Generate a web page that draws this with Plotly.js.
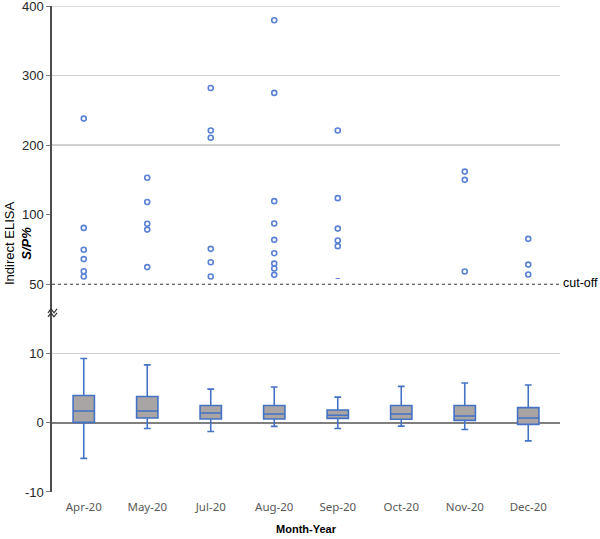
<!DOCTYPE html>
<html>
<head>
<meta charset="utf-8">
<script src="https://cdn.plot.ly/plotly-3.0.1.min.js"></script>
<style>html,body{margin:0;padding:0;background:#fff;}#chart{width:600px;height:539px;}</style>
</head>
<body>
<div id="chart"></div>
<script>
// ---- data ----
var months = ['Apr-20','May-20','Jul-20','Aug-20','Sep-20','Oct-20','Nov-20','Dec-20'];
// box statistics (S/P%, below cut-off)
var lowerWhisker = [-5.15, -0.83, -1.26, -0.53, -0.83, -0.49, -0.97, -2.62];
var q1Values     = [ 0.05,  0.68,  0.53,  0.53,  0.63,  0.49,  0.34, -0.24];
var medianValues = [ 1.70,  1.70,  1.41,  1.26,  1.07,  1.26,  0.97,  0.68];
var q3Values     = [ 3.93,  3.79,  2.48,  2.48,  1.84,  2.48,  2.48,  2.18];
var upperWhisker = [ 9.27,  8.35,  4.85,  5.15,  3.69,  5.24,  5.73,  5.44];
// positive samples (S/P% above cut-off)
var aprPos = [238, 90.5, 74.9, 68.3, 59.7, 55.9];
var mayPos = [153, 118, 93.4, 89.3, 62.6];
var julPos = [282, 221, 210.5, 75.6, 66.1, 55.9];
var augPos = [379.5, 275, 119.3, 93.6, 82, 72.5, 65.1, 61.6, 57.1];
var sepPos = [221, 123.6, 90, 81.5, 77.5];
var octPos = [];
var novPos = [161.8, 149.9, 59.5];
var decPos = [82.7, 64.4, 57.3];
var sepSmall = [54.5];
var cutoff = 50;
var lowTicks = [-10, 0, 10];
var midTicks = [50];
var highTicks = [100, 200, 300, 400];

// ---- build ----
var posLists = [aprPos, mayPos, julPos, augPos, sepPos, octPos, novPos, decPos];
var midX = [], midY = [], highX = [], highY = [];
posLists.forEach(function(list, i){
  list.forEach(function(v){
    if (v <= 100) { midX.push(months[i]); midY.push(v); }
    else { highX.push(months[i]); highY.push(v); }
  });
});

var markerStyle = {symbol: 'circle-open', size: 5, color: '#5b82d4', line: {width: 1.6, color: '#5b82d4'}};

var traces = [
  {
    type: 'box', x: months, yaxis: 'y',
    q1: q1Values, median: medianValues, q3: q3Values,
    lowerfence: lowerWhisker, upperfence: upperWhisker,
    fillcolor: '#aaa5a5', line: {color: '#4472c4', width: 1.6},
    whiskerwidth: 0.32, boxpoints: false, hoverinfo: 'skip', showlegend: false
  },
  {type: 'scatter', mode: 'markers', x: midX, y: midY, yaxis: 'y2', marker: markerStyle, showlegend: false, cliponaxis: false},
  {type: 'scatter', mode: 'markers', x: highX, y: highY, yaxis: 'y3', marker: markerStyle, showlegend: false, cliponaxis: false},
  {type: 'scatter', mode: 'markers', x: ['Sep-20'], y: sepSmall, yaxis: 'y2',
   marker: {symbol: 'line-ew-open', size: 3, color: '#5b82d4', line: {width: 1, color: '#5b82d4'}}, showlegend: false}
];

var tickFont = {family: 'Liberation Sans, Arial, sans-serif', size: 13, color: '#262626'};
var b1 = 0.4263, b2 = 0.5709;
var yCommon = {
  showline: true, linecolor: '#4d4d4d', linewidth: 1.6,
  ticks: 'outside', ticklen: 4, tickcolor: '#7f7f7f',
  tickfont: tickFont, gridcolor: '#d0d0d0', gridwidth: 1.3, fixedrange: true,
  ticklabeloverflow: 'allow'
};

var layout = {
  width: 600, height: 539,
  margin: {l: 52, r: 40, t: 6, b: 47},
  paper_bgcolor: '#ffffff', plot_bgcolor: '#ffffff',
  boxgap: 0.52,
  xaxis: {
    type: 'category', categoryorder: 'array', categoryarray: months,
    range: [-0.5, 7.5], anchor: 'y', showline: false, showgrid: false, zeroline: false,
    ticks: '', tickfont: {family: 'Noto Sans, Open Sans, sans-serif', size: 11.5, color: '#595959'},
    ticklabelstandoff: 6,
    title: {text: '<b>Month-Year</b>', font: {family: 'Liberation Sans, Arial, sans-serif', size: 11, color: '#000'}, standoff: 12}
  },
  yaxis: Object.assign({}, yCommon, {
    domain: [0, b1], range: [-10, 19.9], tickvals: lowTicks, ticktext: lowTicks.map(String),
    showgrid: true, zeroline: true, zerolinecolor: '#7f7f7f', zerolinewidth: 2
  }),
  yaxis2: Object.assign({}, yCommon, {
    domain: [b1, b2], range: [50, 100], tickvals: midTicks, ticktext: midTicks.map(String),
    showgrid: false, zeroline: false, anchor: 'x'
  }),
  yaxis3: Object.assign({}, yCommon, {
    domain: [b2, 1], range: [100, 400], tickvals: highTicks, ticktext: highTicks.map(String),
    showgrid: true, zeroline: false, anchor: 'x'
  }),
  shapes: [
    {type: 'line', xref: 'paper', yref: 'y3', x0: 0, x1: 1, y0: 400, y1: 400,
     line: {color: '#d0d0d0', width: 1.3}, layer: 'below'},
    {type: 'line', xref: 'paper', yref: 'y2', x0: 0, x1: 1, y0: cutoff, y1: cutoff,
     line: {color: '#333333', width: 2, dash: 'dot'}},
    {type: 'path', xref: 'paper', yref: 'y', xsizemode: 'pixel', ysizemode: 'pixel',
     xanchor: 0, yanchor: 16, path: 'M-4,-1 L-1,3 L2,-1 L5,3', line: {color: '#333', width: 1.2}},
    {type: 'path', xref: 'paper', yref: 'y', xsizemode: 'pixel', ysizemode: 'pixel',
     xanchor: 0, yanchor: 16, path: 'M-4,-5 L-1,-1 L2,-5 L5,-1', line: {color: '#333', width: 1.2}}
  ],
  annotations: [
    {xref: 'paper', yref: 'y2', x: 1, y: cutoff, xanchor: 'left', yanchor: 'middle', xshift: 1, yshift: 2,
     text: 'cut-off', showarrow: false, font: {family: 'Liberation Sans, Arial, sans-serif', size: 12.5, color: '#000'}},
    {xref: 'paper', yref: 'paper', x: 0, y: 0.5, xanchor: 'center', yanchor: 'middle', xshift: -34, yshift: 5,
     textangle: -90, showarrow: false,
     text: 'Indirect ELISA<br><b><i>S/P%</i></b>',
     font: {family: 'Liberation Sans, Arial, sans-serif', size: 13, color: '#000'}}
  ]
};

Plotly.newPlot('chart', traces, layout, {staticPlot: true, displayModeBar: false});
</script>
</body>
</html>
